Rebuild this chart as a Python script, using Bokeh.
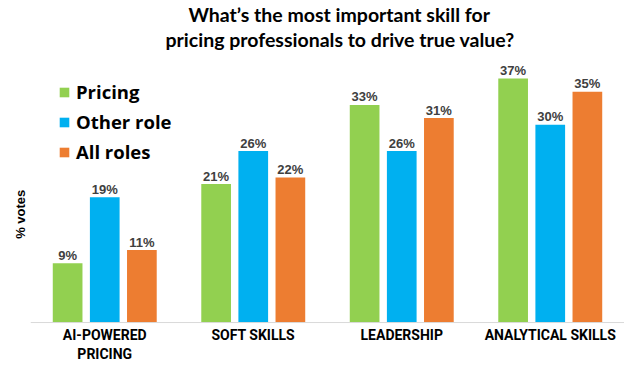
from bokeh.plotting import figure
from bokeh.models import ColumnDataSource, FactorRange, Legend, LegendItem, Title, FixedTicker, Span
from bokeh.transform import dodge
from bokeh.core.properties import value
from bokeh.embed import file_html
from bokeh.resources import INLINE

categories = ["AI-POWERED\nPRICING", "SOFT SKILLS", "LEADERSHIP", "ANALYTICAL SKILLS"]
pricing = [9, 21, 33, 37]
other_role = [19, 26, 26, 30]
all_roles = [11, 22, 31, 35]
series_names = ["Pricing", "Other role", "All roles"]
colors = ["#92D050", "#00B0F0", "#ED7D31"]
title_lines = ["What’s the most important skill for", "pricing professionals to drive true value?"]
y_label = "% votes"

src = ColumnDataSource(dict(
    cat=categories,
    pricing=pricing, other=other_role, allr=all_roles,
    pricing_lbl=[f"{v}%" for v in pricing],
    other_lbl=[f"{v}%" for v in other_role],
    allr_lbl=[f"{v}%" for v in all_roles],
))

p = figure(x_range=FactorRange(*categories, range_padding=0), y_range=(-0.6, 41.1),
           width=624, height=364, output_backend="svg", toolbar_location=None,
           min_border_left=30, min_border_right=0, min_border_bottom=37, min_border_top=0)
p.title = None
for line, off in [(title_lines[1], 135), (title_lines[0], 158)]:
    p.add_layout(Title(text=line, align="left", offset=off, text_font="Lato",
                       text_font_size="19.5px", text_font_style="bold",
                       text_color="#000000", standoff=0), "above")
p.above[0].standoff = 1

# baseline at zero
p.add_layout(Span(location=0, dimension="width", line_color="#d9d9d9", line_width=1))

offsets = [-0.25, 0.0, 0.25]
cols = ["pricing", "other", "allr"]
renderers = []
for off, c, col in zip(offsets, cols, colors):
    r = p.vbar(x=dodge("cat", off, range=p.x_range), top=c, bottom=0, width=0.2, source=src,
               fill_color=col, line_color=None)
    renderers.append(r)
    p.text(x=dodge("cat", off, range=p.x_range), y=c, text=c + "_lbl", source=src,
           text_align="center", text_baseline="alphabetic", y_offset=-8,
           text_font=value("Liberation Sans"), text_font_style="bold",
           text_font_size="13px", text_color="#404040")

legend = Legend(items=[LegendItem(label=n, renderers=[r]) for n, r in zip(series_names, renderers)],
                location="top_left", margin=28, padding=6, spacing=5,
                glyph_width=12, glyph_height=12, label_height=20, label_standoff=6,
                label_text_font="Open Sans", label_text_font_style="bold",
                label_text_font_size="18.5px", label_text_line_height=1.0,
                label_text_color="#000000", border_line_color=None, background_fill_alpha=0)
p.add_layout(legend, "center")

p.xgrid.visible = False
p.ygrid.visible = False
p.outline_line_color = None
p.xaxis.axis_line_color = None
p.xaxis.major_tick_line_color = None
p.xaxis.minor_tick_line_color = None
p.xaxis.major_tick_out = 0
p.xaxis.major_tick_in = 0
p.xaxis.axis_label_standoff = 0
p.xaxis.major_label_standoff = 0
p.xaxis.major_label_text_font = "Roboto"
p.xaxis.major_label_text_font_style = "bold"
p.xaxis.major_label_text_font_size = "14px"
p.xaxis.major_label_text_line_height = 1.2
p.xaxis.major_label_text_color = "#000000"

p.yaxis.ticker = FixedTicker(ticks=[])
p.yaxis.axis_line_color = None
p.yaxis.major_tick_line_color = None
p.yaxis.minor_tick_line_color = None
p.yaxis.major_tick_out = 0
p.yaxis.major_tick_in = 0
p.yaxis.major_label_standoff = 0
p.yaxis.axis_label = y_label + "\u00a0" * 14
p.yaxis.axis_label_standoff = 3
p.yaxis.axis_label_text_font = "Liberation Sans"
p.yaxis.axis_label_text_font_style = "bold"
p.yaxis.axis_label_text_font_size = "13px"
p.yaxis.axis_label_text_color = "#000000"

open("out.html", "w").write(file_html(p, INLINE))
